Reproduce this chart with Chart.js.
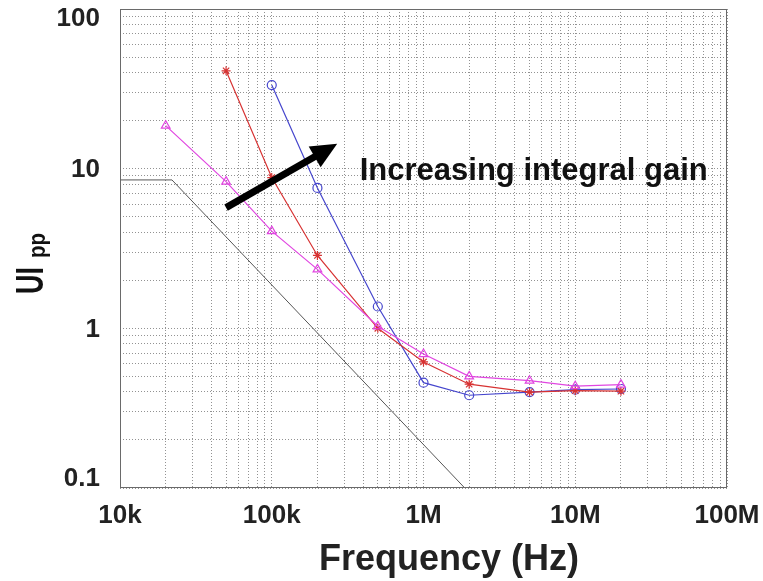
<!DOCTYPE html>
<html>
<head>
<meta charset="utf-8">
<script src="https://cdn.jsdelivr.net/npm/chart.js@4/dist/chart.umd.min.js"></script>
<style>
  html, body { margin: 0; padding: 0; background: #fff; }
  #wrap { width: 763px; height: 581px; }
</style>
</head>
<body>
<div id="wrap"><canvas id="myChart"></canvas></div>
<script>
// frequencies (Hz) and UIpp values
const freqs = [2e4, 5e4, 1e5, 2e5, 5e5, 1e6, 2e6, 5e6, 1e7, 2e7];
const lowGain = [18.6, 8.3, 4.06, 2.34, 1.03, 0.69, 0.50, 0.47, 0.434, 0.444];
const midFreqs = [5e4, 1e5, 2e5, 5e5, 1e6, 2e6, 5e6, 1e7, 2e7];
const midGain = [41, 8.8, 2.86, 1.0, 0.616, 0.447, 0.399, 0.407, 0.404];
const highFreqs = [1e5, 2e5, 5e5, 1e6, 2e6, 5e6, 1e7, 2e7];
const highGain = [33.4, 7.57, 1.37, 0.457, 0.381, 0.399, 0.413, 0.417];
const maskFreqs = [1e4, 2.2e4, 1.87e6];
const maskValues = [8.5, 8.5, 0.1];

const xTickLabels = ['10k', '100k', '1M', '10M', '100M'];
const yTickValues = [0.1, 1, 10, 100];
const yTickLabels = ['0.1', '1', '10', '100'];

// annotation anchors, in data units
const arrowFrom = [5.0e4, 5.7];
const arrowTo = [2.7e5, 14.3];
const noteText = 'Increasing integral gain';
const noteAt = [3.8e5, 8.5];

function pairs(xs, ys) {
    return xs.map((x, i) => ({ x: x, y: ys[i] }));
}

function logTicks(min, max) {
    let t = [];
    for (let d = min; d < max; d *= 10) {
        for (let m = 1; m < 10; m++) t.push({ value: d * m });
    }
    t.push({ value: max });
    return t;
}

function isDecade(v) {
    let l = Math.log10(v);
    return Math.abs(l - Math.round(l)) < 1e-9;
}

const FONT = '"Liberation Sans", Arial, sans-serif';

let decorations = {
    id: 'decorations',
    afterDraw(chart) {
        let ctx = chart.ctx;
        let a = chart.chartArea;
        let xs = chart.scales.x, ys = chart.scales.y;
        ctx.save();

        // frame
        ctx.strokeStyle = '#6a6a6a';
        ctx.lineWidth = 1;
        ctx.strokeRect(a.left + 0.5, a.top + 0.5, a.right - a.left - 1, a.bottom - a.top - 1);

        // y tick labels, end ones kept inside the frame height
        ctx.font = 'bold 26px ' + FONT;
        ctx.fillStyle = '#222';
        ctx.textAlign = 'right';
        ctx.textBaseline = 'middle';
        for (let i = 0; i < yTickValues.length; i++) {
            let py = ys.getPixelForValue(yTickValues[i]);
            py = Math.min(Math.max(py, a.top + 9), a.bottom - 10);
            ctx.fillText(yTickLabels[i], a.left - 20, py + 1);
        }

        // arrow
        let x0 = xs.getPixelForValue(arrowFrom[0]), y0 = ys.getPixelForValue(arrowFrom[1]);
        let x1 = xs.getPixelForValue(arrowTo[0]), y1 = ys.getPixelForValue(arrowTo[1]);
        let ang = Math.atan2(y1 - y0, x1 - x0);
        let headLen = 26, headW = 12;
        let bx = x1 - headLen * Math.cos(ang), by = y1 - headLen * Math.sin(ang);
        ctx.strokeStyle = '#000';
        ctx.lineWidth = 7;
        ctx.beginPath();
        ctx.moveTo(x0, y0);
        ctx.lineTo(bx + 2 * Math.cos(ang), by + 2 * Math.sin(ang));
        ctx.stroke();
        ctx.fillStyle = '#000';
        ctx.beginPath();
        ctx.moveTo(x1, y1);
        ctx.lineTo(bx + headW * Math.sin(ang), by - headW * Math.cos(ang));
        ctx.lineTo(bx - headW * Math.sin(ang), by + headW * Math.cos(ang));
        ctx.closePath();
        ctx.fill();

        // note
        ctx.font = 'bold 31px ' + FONT;
        ctx.textAlign = 'left';
        ctx.textBaseline = 'alphabetic';
        ctx.fillStyle = '#111';
        ctx.fillText(noteText, xs.getPixelForValue(noteAt[0]), ys.getPixelForValue(noteAt[1]), 350);

        // x title
        ctx.font = 'bold 36px ' + FONT;
        ctx.textAlign = 'center';
        ctx.fillStyle = '#222';
        ctx.fillText('Frequency (Hz)', 449, 570, 270);

        // y title with subscript
        ctx.translate(43, 294);
        ctx.rotate(-Math.PI / 2);
        ctx.textAlign = 'left';
        ctx.font = 'bold 38px ' + FONT;
        ctx.fillStyle = '#111';
        ctx.fillText('UI', 0, 0, 27);
        ctx.font = 'bold 24px ' + FONT;
        ctx.fillText('pp', 36, 2, 25);
        ctx.restore();
    }
};

let ctx = document.getElementById('myChart').getContext('2d');

let gridStyle = {
    color: 'rgba(110,110,110,0.75)',
    lineWidth: 1,
    drawTicks: false
};
let tickFont = { family: FONT, size: 26, weight: 'bold' };

let myChart = new Chart(ctx, {
    type: 'scatter',
    data: {
        datasets: [{
            label: 'mask',
            data: pairs(maskFreqs, maskValues),
            showLine: true,
            borderColor: '#555',
            borderWidth: 1,
            pointRadius: 0
        }, {
            label: 'low gain',
            data: pairs(freqs, lowGain),
            showLine: true,
            borderColor: 'rgb(225, 70, 225)',
            backgroundColor: 'rgba(0,0,0,0)',
            borderWidth: 1.2,
            pointStyle: 'triangle',
            pointRadius: 5,
            pointBorderWidth: 1.2
        }, {
            label: 'mid gain',
            data: pairs(midFreqs, midGain),
            showLine: true,
            borderColor: 'rgb(215, 50, 50)',
            backgroundColor: 'rgba(0,0,0,0)',
            borderWidth: 1.2,
            pointStyle: 'star',
            pointRadius: 4.5,
            pointBorderWidth: 1.2
        }, {
            label: 'high gain',
            data: pairs(highFreqs, highGain),
            showLine: true,
            borderColor: 'rgb(70, 70, 205)',
            backgroundColor: 'rgba(0,0,0,0)',
            borderWidth: 1.2,
            pointStyle: 'circle',
            pointRadius: 4.5,
            pointBorderWidth: 1.2
        }]
    },
    options: {
        responsive: true,
        maintainAspectRatio: false,
        animation: false,
        layout: { padding: { top: 9, right: 36, left: 0, bottom: 0 } },
        scales: {
            x: {
                type: 'logarithmic',
                min: 1e4,
                max: 1e8,
                afterBuildTicks: (s) => { s.ticks = logTicks(1e4, 1e8); },
                afterFit: (s) => { s.height = 93; s.paddingLeft = 0; s.paddingRight = 0; },
                grid: gridStyle,
                border: { display: false, dash: [1, 2] },
                ticks: {
                    autoSkip: false,
                    maxRotation: 0,
                    padding: 12,
                    color: '#222',
                    font: tickFont,
                    callback: (v) => isDecade(v) ? xTickLabels[Math.round(Math.log10(v)) - 4] : ''
                }
            },
            y: {
                type: 'logarithmic',
                min: 0.1,
                max: 100,
                afterBuildTicks: (s) => { s.ticks = logTicks(0.1, 100); },
                afterFit: (s) => { s.width = 120; s.paddingTop = 0; s.paddingBottom = 0; },
                grid: gridStyle,
                border: { display: false, dash: [1, 2] },
                ticks: { display: false }
            }
        },
        plugins: {
            legend: { display: false },
            tooltip: { enabled: false }
        }
    },
    plugins: [decorations]
});
</script>
</body>
</html>
